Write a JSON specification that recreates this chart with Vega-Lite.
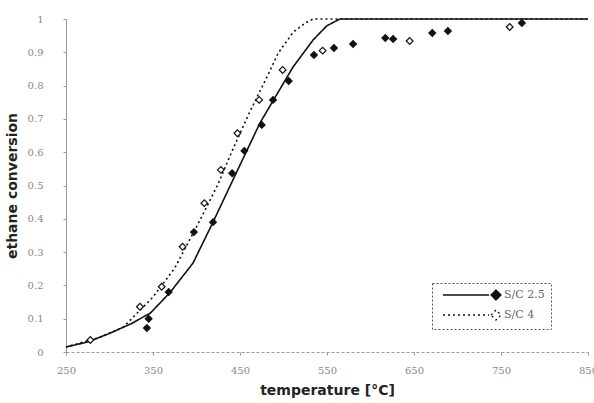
{
  "$schema": "https://vega.github.io/schema/vega-lite/v6.json",
  "width": 522,
  "height": 333,
  "autosize": {"type": "none"},
  "padding": {"left": 66, "top": 19, "right": 6, "bottom": 51},
  "background": "white",
  "config": {
    "view": {"stroke": null},
    "axis": {"grid": false, "labelFont": "DejaVu Serif", "labelFontSize": 10, "labelColor": "#888", "titleFont": "DejaVu Sans", "titleFontSize": 14, "titleColor": "#222", "titleFontWeight": "bold", "domainColor": "#999", "tickColor": "#999", "labelOverlap": false, "labelFlush": false},
    "legend": {"strokeDash": [2, 2]}
  },
  "datasets": {
    "curves": [
      {"series": "S/C 2.5", "T": 250, "conv": 0.015},
      {"series": "S/C 2.5", "T": 275, "conv": 0.03},
      {"series": "S/C 2.5", "T": 301, "conv": 0.057},
      {"series": "S/C 2.5", "T": 325, "conv": 0.085},
      {"series": "S/C 2.5", "T": 347, "conv": 0.117},
      {"series": "S/C 2.5", "T": 370, "conv": 0.18},
      {"series": "S/C 2.5", "T": 396, "conv": 0.267},
      {"series": "S/C 2.5", "T": 419, "conv": 0.39},
      {"series": "S/C 2.5", "T": 447, "conv": 0.545},
      {"series": "S/C 2.5", "T": 473, "conv": 0.688},
      {"series": "S/C 2.5", "T": 492, "conv": 0.772},
      {"series": "S/C 2.5", "T": 511, "conv": 0.856},
      {"series": "S/C 2.5", "T": 534, "conv": 0.937},
      {"series": "S/C 2.5", "T": 550, "conv": 0.98},
      {"series": "S/C 2.5", "T": 565, "conv": 1.0},
      {"series": "S/C 2.5", "T": 850, "conv": 1.0},
      {"series": "S/C 4", "T": 250, "conv": 0.015},
      {"series": "S/C 4", "T": 266, "conv": 0.027},
      {"series": "S/C 4", "T": 290, "conv": 0.045},
      {"series": "S/C 4", "T": 316, "conv": 0.075},
      {"series": "S/C 4", "T": 350, "conv": 0.165},
      {"series": "S/C 4", "T": 375, "conv": 0.252},
      {"series": "S/C 4", "T": 404, "conv": 0.396},
      {"series": "S/C 4", "T": 424, "conv": 0.5},
      {"series": "S/C 4", "T": 442, "conv": 0.61},
      {"series": "S/C 4", "T": 461, "conv": 0.72},
      {"series": "S/C 4", "T": 481, "conv": 0.826},
      {"series": "S/C 4", "T": 494, "conv": 0.898},
      {"series": "S/C 4", "T": 511, "conv": 0.96},
      {"series": "S/C 4", "T": 525, "conv": 0.988},
      {"series": "S/C 4", "T": 534, "conv": 1.0},
      {"series": "S/C 4", "T": 850, "conv": 1.0}
    ],
    "points": [
      {"series": "S/C 2.5", "T": 343, "conv": 0.072},
      {"series": "S/C 2.5", "T": 345, "conv": 0.1},
      {"series": "S/C 2.5", "T": 368, "conv": 0.18},
      {"series": "S/C 2.5", "T": 397, "conv": 0.36},
      {"series": "S/C 2.5", "T": 419, "conv": 0.39},
      {"series": "S/C 2.5", "T": 441, "conv": 0.537},
      {"series": "S/C 2.5", "T": 455, "conv": 0.604},
      {"series": "S/C 2.5", "T": 475, "conv": 0.682},
      {"series": "S/C 2.5", "T": 488, "conv": 0.757},
      {"series": "S/C 2.5", "T": 506, "conv": 0.814},
      {"series": "S/C 2.5", "T": 535, "conv": 0.892},
      {"series": "S/C 2.5", "T": 558, "conv": 0.913},
      {"series": "S/C 2.5", "T": 580, "conv": 0.925},
      {"series": "S/C 2.5", "T": 617, "conv": 0.943},
      {"series": "S/C 2.5", "T": 626, "conv": 0.94},
      {"series": "S/C 2.5", "T": 671, "conv": 0.958},
      {"series": "S/C 2.5", "T": 689, "conv": 0.964},
      {"series": "S/C 2.5", "T": 774, "conv": 0.988},
      {"series": "S/C 4", "T": 278, "conv": 0.036},
      {"series": "S/C 4", "T": 335, "conv": 0.136},
      {"series": "S/C 4", "T": 360, "conv": 0.196},
      {"series": "S/C 4", "T": 384, "conv": 0.316},
      {"series": "S/C 4", "T": 409, "conv": 0.447},
      {"series": "S/C 4", "T": 428, "conv": 0.547},
      {"series": "S/C 4", "T": 447, "conv": 0.657},
      {"series": "S/C 4", "T": 472, "conv": 0.757},
      {"series": "S/C 4", "T": 499, "conv": 0.847},
      {"series": "S/C 4", "T": 545, "conv": 0.905},
      {"series": "S/C 4", "T": 645, "conv": 0.934},
      {"series": "S/C 4", "T": 760, "conv": 0.976}
    ]
  },
  "layer": [
    {
      "data": {"name": "curves"},
      "mark": {"type": "line", "color": "#111", "strokeWidth": 1.6},
      "encoding": {
        "x": {"field": "T", "type": "quantitative", "scale": {"domain": [250, 850], "nice": false, "zero": false},
              "axis": {"values": [250, 350, 450, 550, 650, 750, 850], "tickCount": 20, "title": "temperature [°C]", "tickSize": 3, "labelPadding": 10, "titlePadding": 8, "domainDash": [3, 2]}},
        "y": {"field": "conv", "type": "quantitative", "scale": {"domain": [0, 1], "nice": false},
              "axis": {"values": [0, 0.1, 0.2, 0.3, 0.4, 0.5, 0.6, 0.7, 0.8, 0.9, 1], "tickCount": 20, "format": ".1~f", "title": "ethane conversion", "tickSize": 3, "labelPadding": 20, "titlePadding": 8}},
        "detail": {"field": "series"},
        "strokeDash": {"field": "series", "type": "nominal", "scale": {"domain": ["S/C 2.5", "S/C 4"], "range": [[1, 0], [2, 3]]}}
      }
    },
    {
      "data": {"name": "points"},
      "mark": {"type": "point", "shape": "diamond", "filled": true, "stroke": "#111", "strokeWidth": 1.2, "size": 45, "opacity": 1},
      "encoding": {
        "x": {"field": "T", "type": "quantitative"},
        "y": {"field": "conv", "type": "quantitative"},
        "fill": {"field": "series", "type": "nominal", "scale": {"domain": ["S/C 2.5", "S/C 4"], "range": ["#111", "white"]},
                 "legend": {"orient": "none", "legendX": 366, "legendY": 264, "title": null, "symbolType": "M-9,0 L0.2,0 M0.6,0 L1.6,-1 L2.6,0 L1.6,1 Z", "symbolSize": 100, "symbolOffset": 44, "labelOffset": 10, "symbolStrokeColor": "#111", "symbolStrokeWidth": 1.3, "labelFont": "DejaVu Serif", "labelFontSize": 11, "labelColor": "#666", "strokeColor": "#555", "padding": 6, "rowPadding": 4}}
      }
    },
    {
      "mark": {"type": "rule", "color": "#555", "strokeDash": [2, 2], "strokeWidth": 1},
      "encoding": {"y": {"datum": 1, "type": "quantitative"}}
    },
    {
      "mark": {"type": "rule", "color": "#111", "strokeWidth": 1.5},
      "encoding": {"x": {"datum": 850, "type": "quantitative"}}
    }
  ]
}
